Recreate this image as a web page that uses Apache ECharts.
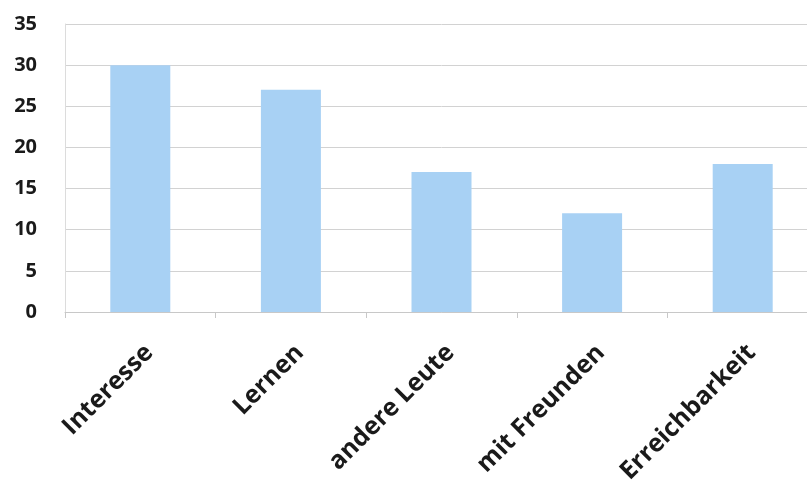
<!DOCTYPE html>
<html><head><meta charset="utf-8">
<script src="https://cdn.jsdelivr.net/npm/echarts@6/dist/echarts.min.js"></script>
<style>html,body{margin:0;padding:0;background:#fff;overflow:hidden}#c{width:818px;height:486px}</style>
</head><body><div id="c"></div>
<script>
const categories = ['Interesse', 'Lernen', 'andere Leute', 'mit Freunden', 'Erreichbarkeit'];
const values = [30, 27, 17, 12, 18];
const yTicks = [0, 5, 10, 15, 20, 25, 30, 35];

const chart = echarts.init(document.getElementById('c'));
chart.setOption({
  animation: false,
  backgroundColor: '#ffffff',
  grid: { left: 65, top: 24, bottom: 174, right: 0, containLabel: false, outerBoundsMode: 'none' },
  xAxis: {
    type: 'category',
    data: categories,
    axisLine: { show: true, lineStyle: { color: '#c8c8c8', width: 1 } },
    axisTick: { show: true, length: 6, lineStyle: { color: '#c8c8c8' } },
    axisLabel: {
      rotate: 45, margin: 28, color: '#1a1a1a', verticalAlign: 'top',
      fontFamily: 'Open Sans', fontWeight: 'bold', fontSize: 25
    }
  },
  yAxis: {
    type: 'value', min: yTicks[0], max: yTicks[yTicks.length - 1], interval: 5,
    axisLine: { show: true, lineStyle: { color: '#dcdcdc' } },
    axisTick: { show: false },
    splitLine: { lineStyle: { color: '#d2d2d2', width: 1 } },
    axisLabel: {
      margin: 28, color: '#1a1a1a',
      fontFamily: 'Open Sans', fontWeight: 'bold', fontSize: 20
    }
  },
  series: [{
    type: 'bar', data: values, barWidth: 60,
    itemStyle: { color: '#a8d1f4' }
  }]
});
</script></body></html>
